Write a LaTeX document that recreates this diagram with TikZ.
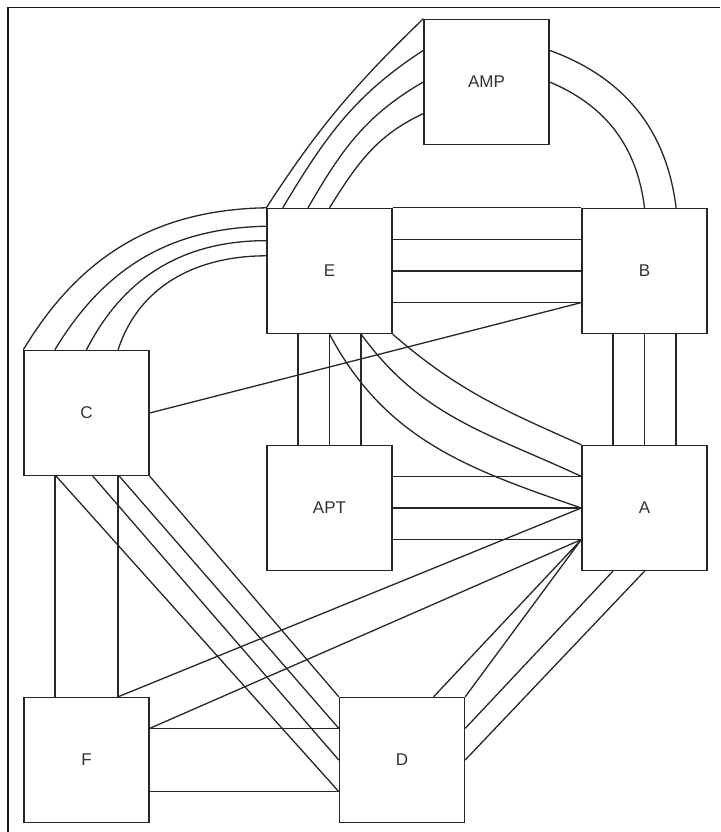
\documentclass[tikz,border=0pt]{standalone}
\usepackage{fontspec}
\setmainfont{Liberation Sans}
\usepackage{tikz}
\usetikzlibrary{positioning, calc}

\begin{document}
\begin{tikzpicture}[x=1pt,y=1pt,on grid,node distance=315pt,
    box/.style={draw=black!85,line width=1.4pt,fill=white,minimum width=125pt,minimum height=125pt,inner sep=0pt,
      text=black!80,font=\fontsize{17}{20}\selectfont},
    wire/.style={draw=black!85,line width=1.3pt}]
  \useasboundingbox (0,0) rectangle (720,832);
  % frame of the sheet
  \draw[black!90,line width=1.4pt] (8,0) -- (8,824.5) -- (720,824.5);

  \node[box] (E) at (329.5,561) {E};
  \node[box] (B) [right=of E] {B};
  \node[box] (AMP) [above right=189pt and 157pt of E] {AMP};
  \node[box] (C) [below left=142pt and 243pt of E] {C};
  \node[box] (APT) [below=237pt of E] {APT};
  \node[box] (A) [below=237pt of B] {A};
  \node[box] (F) [below=347pt of C] {F};
  \node[box] (D) [right=315.5pt of F] {D};

  % E -- AMP
  \path[wire]
    (E.north west) edge [out=57,in=224] (AMP.north west)
    ($(E.north west)!.13!(E.north east)$) edge [out=59,in=213] ($(AMP.north west)!.25!(AMP.south west)$)
    ($(E.north west)!.33!(E.north east)$) edge [out=60,in=210] (AMP.west)
    (E.north) edge [out=58,in=205] ($(AMP.north west)!.75!(AMP.south west)$);
  % AMP -- B
  \path[wire]
    ($(AMP.north east)!.25!(AMP.south east)$) edge [out=-20,in=97] ($(B.north west)!.75!(B.north east)$)
    (AMP.east) edge [out=-23,in=97] (B.north);
  % E -- C
  \path[wire]
    (E.north west) edge [out=181,in=59] (C.north west)
    ($(E.north west)!.146!(E.south west)$) edge [out=181,in=59] ($(C.north west)!.25!(C.north east)$)
    ($(E.north west)!.26!(E.south west)$) edge [out=180,in=63] (C.north)
    ($(E.north west)!.38!(E.south west)$) edge [out=180,in=72] ($(C.north west)!.75!(C.north east)$);
  % E -- B
  \draw[wire] (E.north east) -- (B.north west)
    ($(E.north east)!.25!(E.south east)$) -- ($(B.north west)!.25!(B.south west)$)
    (E.east) -- (B.west)
    ($(E.north east)!.75!(E.south east)$) -- ($(B.north west)!.75!(B.south west)$);
  % C -- B
  \draw[wire] (C.east) -- ($(B.north west)!.75!(B.south west)$);
  % E -- APT
  \draw[wire] ($(E.south west)!.25!(E.south east)$) -- ($(APT.north west)!.25!(APT.north east)$)
    (E.south) -- (APT.north)
    ($(E.south west)!.75!(E.south east)$) -- ($(APT.north west)!.75!(APT.north east)$);
  % E -- A
  \path[wire]
    (E.south) edge [out=-62,in=161] (A.west)
    ($(E.south west)!.75!(E.south east)$) edge [out=-54,in=155] ($(A.north west)!.25!(A.south west)$)
    (E.south east) edge [out=-41,in=156] (A.north west);
  % APT -- A
  \draw[wire] ($(APT.north east)!.25!(APT.south east)$) -- ($(A.north west)!.25!(A.south west)$)
    (APT.east) -- (A.west)
    ($(APT.north east)!.75!(APT.south east)$) -- ($(A.north west)!.75!(A.south west)$);
  % B -- A
  \draw[wire] ($(B.south west)!.25!(B.south east)$) -- ($(A.north west)!.25!(A.north east)$)
    (B.south) -- (A.north)
    ($(B.south west)!.75!(B.south east)$) -- ($(A.north west)!.75!(A.north east)$);
  % A -- F
  \draw[wire] (A.west) -- ($(F.north west)!.75!(F.north east)$)
    ($(A.north west)!.75!(A.south west)$) -- ($(F.north east)!.25!(F.south east)$);
  % A -- D
  \draw[wire] ($(A.north west)!.75!(A.south west)$) -- ($(D.north west)!.75!(D.north east)$)
    ($(A.north west)!.75!(A.south west)$) -- (D.north east)
    ($(A.south west)!.25!(A.south east)$) -- ($(D.north east)!.25!(D.south east)$)
    (A.south) -- (D.east);
  % C -- F
  \draw[wire] ($(C.south west)!.25!(C.south east)$) -- ($(F.north west)!.25!(F.north east)$)
    ($(C.south west)!.75!(C.south east)$) -- ($(F.north west)!.75!(F.north east)$);
  % C -- D
  \draw[wire] (C.south east) -- (D.north west)
    ($(C.south west)!.76!(C.south east)$) -- ($(D.north west)!.25!(D.south west)$)
    ($(C.south west)!.55!(C.south east)$) -- (D.west)
    ($(C.south west)!.26!(C.south east)$) -- ($(D.north west)!.75!(D.south west)$);
  % F -- D
  \draw[wire] ($(F.north east)!.25!(F.south east)$) -- ($(D.north west)!.25!(D.south west)$)
    ($(F.north east)!.75!(F.south east)$) -- ($(D.north west)!.75!(D.south west)$);
\end{tikzpicture}
\end{document}
